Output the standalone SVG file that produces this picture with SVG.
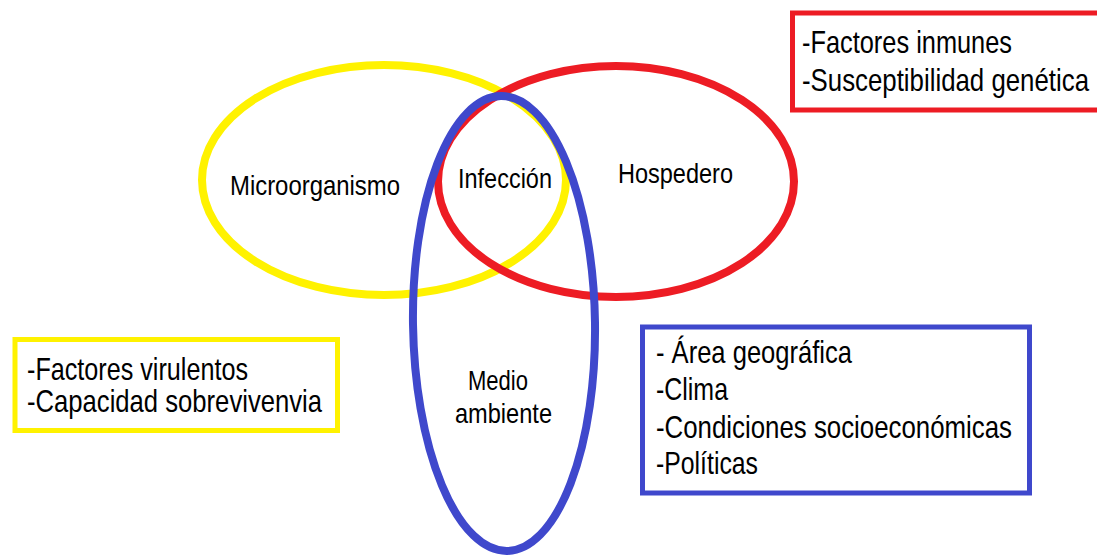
<svg xmlns="http://www.w3.org/2000/svg" width="1097" height="557" viewBox="0 0 1097 557">
<style>
.t{font-family:"Liberation Sans",Arial,sans-serif;fill:#000}
.c{font-size:23.7px}
.b{font-size:25.6px}
.e{fill:none;stroke-width:8}
.box{fill:#fff;stroke-width:5}
</style>
<rect width="1097" height="557" fill="#fff"/>
<g id="box-hospedero">
<path class="box" d="M1097 13 H792.5 V110 H1097" stroke="#ED1C24"/>
<text class="t b" transform="translate(802 53) scale(1 1.2)" textLength="210" lengthAdjust="spacingAndGlyphs">-Factores inmunes</text>
<text class="t b" transform="translate(802 91) scale(1 1.2)" textLength="287" lengthAdjust="spacingAndGlyphs">-Susceptibilidad genética</text>
</g>
<g id="box-medio">
<rect class="box" x="642.5" y="327" width="387" height="166" stroke="#3F48CC"/>
<text class="t b" transform="translate(656 363) scale(1 1.2)" textLength="196" lengthAdjust="spacingAndGlyphs">- Área geográfica</text>
<text class="t b" transform="translate(656 400) scale(1 1.2)" textLength="72" lengthAdjust="spacingAndGlyphs">-Clima</text>
<text class="t b" transform="translate(656 438) scale(1 1.2)" textLength="356" lengthAdjust="spacingAndGlyphs">-Condiciones socioeconómicas</text>
<text class="t b" transform="translate(656 474) scale(1 1.2)" textLength="102" lengthAdjust="spacingAndGlyphs">-Políticas</text>
</g>
<g id="box-micro">
<rect class="box" x="15" y="339.5" width="322.5" height="91" stroke="#FFF200"/>
<text class="t b" transform="translate(27 380) scale(1 1.2)" textLength="221" lengthAdjust="spacingAndGlyphs">-Factores virulentos</text>
<text class="t b" transform="translate(27 412) scale(1 1.2)" textLength="295" lengthAdjust="spacingAndGlyphs">-Capacidad sobrevivenvia</text>
</g>
<g id="microorganismo">
<ellipse class="e" cx="384" cy="180" rx="182" ry="115" stroke="#FFF200"/>
<text class="t c" transform="translate(230 195) scale(1 1.2)" textLength="170" lengthAdjust="spacingAndGlyphs">Microorganismo</text>
</g>
<g id="hospedero">
<ellipse class="e" cx="616" cy="181.5" rx="178" ry="115.5" stroke="#ED1C24"/>
<text class="t c" transform="translate(618 183) scale(1 1.2)" textLength="115" lengthAdjust="spacingAndGlyphs">Hospedero</text>
</g>
<g id="medio-ambiente">
<ellipse class="e" cx="504" cy="323.5" rx="91" ry="227.5" stroke="#3F48CC" transform="rotate(-0.8 504 323.5)"/>
<text class="t c" transform="translate(468 390) scale(1 1.2)" textLength="60" lengthAdjust="spacingAndGlyphs">Medio</text>
<text class="t c" transform="translate(455 423) scale(1 1.2)" textLength="97" lengthAdjust="spacingAndGlyphs">ambiente</text>
</g>
<g id="infeccion">
<text class="t c" transform="translate(458 188) scale(1 1.2)" textLength="94" lengthAdjust="spacingAndGlyphs">Infección</text>
</g>
<g id="connectors"></g>
</svg>
